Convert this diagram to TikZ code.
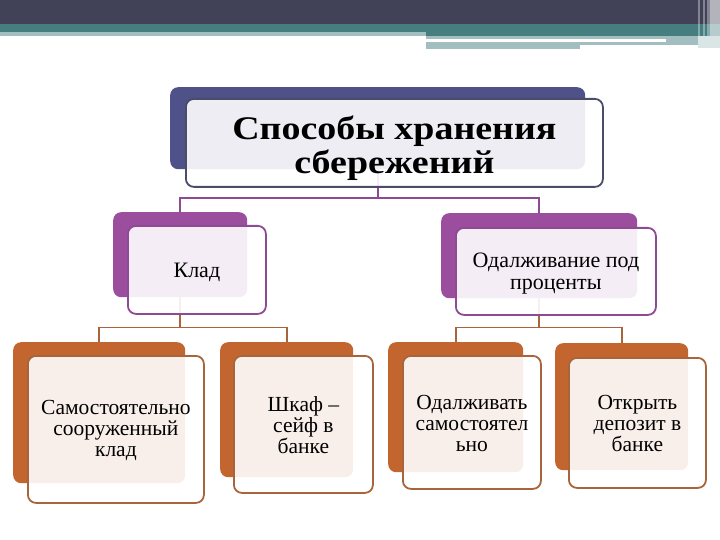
\documentclass[tikz,border=0pt]{standalone}
\usepackage{fontspec}
\setmainfont{Liberation Serif}
\definecolor{hdark}{HTML}{414257}
\definecolor{hteal}{HTML}{467E80}
\definecolor{hlight}{HTML}{A3BEC0}
\definecolor{navyback}{HTML}{4F5189}
\definecolor{navyline}{HTML}{4A4C6A}
\definecolor{purpback}{HTML}{9C4E9E}
\definecolor{purpline}{HTML}{8E4A93}
\definecolor{orback}{HTML}{C3652F}
\definecolor{orline}{HTML}{A8653C}
\tikzset{
  backbox/.style={rounded corners=8pt, inner sep=0pt, anchor=north west},
  frontbox/.style={rounded corners=8pt, inner sep=0pt, anchor=north west, fill=white, fill opacity=0.9, line width=1.8pt},
  label/.style={inner sep=0pt, align=center},
  pconn/.style={draw=purpline, line width=1.8pt},
  oconn/.style={draw=orline, line width=1.8pt},
  titlefont/.style={font=\fontsize{33}{34}\selectfont\bfseries},
  midfont/.style={font=\fontsize{22}{22}\selectfont},
  lowfont/.style={font=\fontsize{21.5}{21}\selectfont},
}
\newcommand{\widetext}[1]{\scalebox{1.15}[1]{#1}}
\begin{document}
\begin{tikzpicture}[x=1pt,y=-1pt]
\useasboundingbox (0,0) rectangle (720,540);
% header
\fill[hdark] (0,0) rectangle (720,24);
\fill[hteal] (0,24) rectangle (720,32);
\fill[hteal] (426,32) rectangle (720,36);
\fill[hlight] (0,32) rectangle (426,36);
\fill[hlight] (426,36) rectangle (666,39);
\fill[hlight] (666,36) rectangle (698,45);
\fill[hlight] (426,42) rectangle (580,49);
\fill[hlight] (580,42) rectangle (698,45);
\fill[white, opacity=0.6] (710,0) rectangle (720,36);
\fill[hlight!40] (698,36) rectangle (720,48);
\fill[white, opacity=0.35] (698,0) rectangle (700,36);
\fill[white, opacity=0.35] (703,0) rectangle (705,36);
\fill[white, opacity=0.35] (707,0) rectangle (710,36);
% back shapes
\node[backbox, fill=navyback, minimum width=415pt, minimum height=82pt] (b0) at (170,87) {};
\node[backbox, fill=purpback, minimum width=134pt, minimum height=85pt] (b1) at (113,212) {};
\node[backbox, fill=purpback, minimum width=196pt, minimum height=85pt] (b2) at (441,213) {};
\node[backbox, fill=orback, minimum width=172pt, minimum height=141pt] (b3) at (13,342) {};
\node[backbox, fill=orback, minimum width=133pt, minimum height=135pt] (b4) at (220,342) {};
\node[backbox, fill=orback, minimum width=135pt, minimum height=130pt] (b5) at (388,342) {};
\node[backbox, fill=orback, minimum width=133pt, minimum height=127pt] (b6) at (555,343) {};
% connectors
\draw[pconn] (b0.south) -- ++(0,29) coordinate (j0) -| (b1.north);
\draw[pconn] (j0) -| (b2.north);
\draw[oconn] (b1.south) -- ++(0,30) coordinate (j1) -| (b3.north);
\draw[oconn] (j1) -| (b4.north);
\draw[oconn] (b2.south) -- ++(0,29) coordinate (j2) -| (b5.north);
\draw[oconn] (j2) -| (b6.north);
% front shapes
\node[frontbox, draw=navyline, minimum width=417pt, minimum height=88pt] (f0) at (185,98) {};
\node[frontbox, draw=purpline, minimum width=138pt, minimum height=88pt] (f1) at (127,225) {};
\node[frontbox, draw=purpline, minimum width=200pt, minimum height=87pt] (f2) at (455,227) {};
\node[frontbox, draw=orline, minimum width=176pt, minimum height=147pt] (f3) at (27,355) {};
\node[frontbox, draw=orline, minimum width=139pt, minimum height=137pt] (f4) at (233,355) {};
\node[frontbox, draw=orline, minimum width=138pt, minimum height=133pt] (f5) at (402,355) {};
\node[frontbox, draw=orline, minimum width=137pt, minimum height=130pt] (f6) at (568,357) {};
% texts
\node[label, titlefont] (t0) at ([yshift=-5.5pt]f0.center) {\widetext{Способы хранения}\\\widetext{сбережений}};
\node[label, midfont] (t1) at ([yshift=-3pt]f1.center) {Клад};
\node[label, midfont] (t2) at ([yshift=-2pt]f2.center) {Одалживание под\\проценты};
\node[label, lowfont] (t3) at ([yshift=-1pt]f3.center) {Самостоятельно\\сооруженный\\клад};
\node[label, lowfont] (t4) at ([yshift=-1pt]f4.center) {Шкаф –\\сейф в\\банке};
\node[label, lowfont] (t5) at ([yshift=-1pt]f5.center) {Одалживать\\самостоятел\\ьно};
\node[label, lowfont] (t6) at ([yshift=-1pt]f6.center) {Открыть\\депозит в\\банке};
\end{tikzpicture}
\end{document}
